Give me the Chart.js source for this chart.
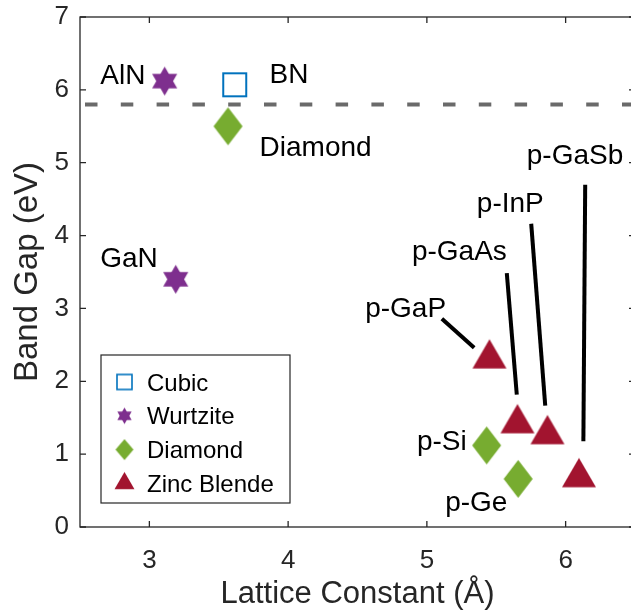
<!DOCTYPE html>
<html>
<head>
<meta charset="utf-8">
<title>Band Gap vs Lattice Constant</title>
<script src="https://cdn.jsdelivr.net/npm/chart.js@4.4.1/dist/chart.umd.min.js"></script>
<style>
  html, body { margin: 0; padding: 0; background: #fff; overflow: hidden; }
  #wrap { width: 650px; height: 615px; }
</style>
</head>
<body>
<div id="wrap"><canvas id="myChart" width="650" height="615"></canvas></div>
<script>
// lattice constant (Å) and band gap (eV), grouped by crystal structure
const cubicX = [3.615];
const cubicY = [6.07];
const wurtziteX = [3.11, 3.19];
const wurtziteY = [6.12, 3.40];
const diamondX = [3.567, 5.431, 5.658];
const diamondY = [5.50, 1.12, 0.66];
const zincX = [5.451, 5.653, 5.869, 6.096];
const zincY = [2.31, 1.42, 1.27, 0.68];

const seriesNames = ['Cubic', 'Wurtzite', 'Diamond', 'Zinc Blende'];

// dashed reference level
const refGap = 5.8;

// axis ranges and ticks
const xRange = [2.5, 6.5];
const yRange = [0, 7];
const xTicks = [3, 4, 5, 6];
const yTicks = [0, 1, 2, 3, 4, 5, 6, 7];

// material names and where their text starts (data units)
const labelText = ['AlN', 'BN', 'Diamond', 'GaN', 'p-GaSb', 'p-InP', 'p-GaAs', 'p-GaP', 'p-Si', 'p-Ge'];
const labelX = [2.646, 3.866, 3.794, 2.646, 5.720, 5.360, 4.892, 4.555, 4.928, 5.132];
const labelY = [6.085, 6.093, 5.087, 3.566, 4.986, 4.321, 3.658, 2.879, 1.058, 0.224];

// leader lines from a label down to its marker: x0, y0, x1, y1
const leaderGaP = [5.108, 2.857, 5.341, 2.459];
const leaderGaAs = [5.576, 3.484, 5.648, 1.817];
const leaderInP = [5.752, 4.162, 5.853, 1.666];
const leaderGaSb = [6.141, 4.698, 6.128, 1.176];

const colors = ['#0072BD', '#7E2F8E', '#77AC30', '#A2142F'];
const FONT = "'Liberation Sans', Arial, Helvetica, sans-serif";

// marker sprites, drawn once and handed to Chart.js as pointStyle
function sprite(w, h, paint) {
    const c = document.createElement('canvas');
    c.width = w;
    c.height = h;
    const g = c.getContext('2d');
    paint(g, w / 2, h / 2);
    return c;
}

function squareMarker(side, lw, color) {
    const n = Math.ceil(side + lw + 2);
    return sprite(n, n, (g, cx, cy) => {
        g.strokeStyle = color;
        g.lineWidth = lw;
        g.strokeRect(cx - side / 2, cy - side / 2, side, side);
    });
}

function hexagramMarker(R, color) {
    const n = Math.ceil(2 * R + 2);
    return sprite(n, n, (g, cx, cy) => {
        g.fillStyle = color;
        [-90, 90].forEach(start => {
            g.beginPath();
            for (let k = 0; k < 3; k++) {
                const a = (start + k * 120) * Math.PI / 180;
                g.lineTo(cx + R * Math.cos(a), cy + R * Math.sin(a));
            }
            g.closePath();
            g.fill();
        });
    });
}

function diamondMarker(hw, hh, color) {
    return sprite(Math.ceil(2 * hw + 2), Math.ceil(2 * hh + 2), (g, cx, cy) => {
        g.fillStyle = color;
        g.beginPath();
        g.moveTo(cx, cy - hh);
        g.lineTo(cx + hw, cy);
        g.lineTo(cx, cy + hh);
        g.lineTo(cx - hw, cy);
        g.closePath();
        g.fill();
    });
}

function triangleMarker(r, color) {
    const n = Math.ceil(2 * r + 2);
    return sprite(n, n, (g, cx, cy) => {
        const s = r * Math.sin(2 * Math.PI / 3);
        g.fillStyle = color;
        g.beginPath();
        g.moveTo(cx, cy - r);
        g.lineTo(cx + s, cy + r / 2);
        g.lineTo(cx - s, cy + r / 2);
        g.closePath();
        g.fill();
    });
}

const markers = [
    squareMarker(23, 2, colors[0]),
    hexagramMarker(14.5, colors[1]),
    diamondMarker(14.5, 19, colors[2]),
    triangleMarker(19.6, colors[3])
];
const legendMarkers = [
    squareMarker(15, 1.6, colors[0]),
    hexagramMarker(8.3, colors[1]),
    diamondMarker(9, 10.5, colors[2]),
    triangleMarker(11.5, colors[3])
];

const pts = (xs, ys) => xs.map((x, i) => ({ x: x, y: ys[i] }));
const seg = s => [{ x: s[0], y: s[1] }, { x: s[2], y: s[3] }];

function markerSet(i, xs, ys) {
    return {
        label: seriesNames[i],
        data: pts(xs, ys),
        pointStyle: markers[i],
        pointRadius: 10,
        pointHoverRadius: 10,
        showLine: false
    };
}

function lineSet(data, extra) {
    return Object.assign({
        data: data,
        showLine: true,
        pointRadius: 0,
        pointHoverRadius: 0,
        borderColor: '#000',
        borderWidth: 4,
        borderCapStyle: 'butt'
    }, extra || {});
}

// box with inward ticks on all four sides
const frame = {
    id: 'frame',
    afterDatasetsDraw(chart) {
        const { ctx, chartArea: a, scales: { x, y } } = chart;
        ctx.save();
        ctx.strokeStyle = '#262626';
        ctx.lineWidth = 1.3;
        ctx.strokeRect(a.left, a.top, a.right - a.left, a.bottom - a.top);
        ctx.beginPath();
        xTicks.forEach(v => {
            const px = x.getPixelForValue(v);
            ctx.moveTo(px, a.bottom); ctx.lineTo(px, a.bottom - 6);
            ctx.moveTo(px, a.top); ctx.lineTo(px, a.top + 6);
        });
        yTicks.forEach(v => {
            const py = y.getPixelForValue(v);
            ctx.moveTo(a.left, py); ctx.lineTo(a.left + 6, py);
            ctx.moveTo(a.right, py); ctx.lineTo(a.right - 6, py);
        });
        ctx.stroke();
        ctx.restore();
    }
};

// material names next to the markers
const names = {
    id: 'names',
    afterDatasetsDraw(chart) {
        const { ctx, scales: { x, y } } = chart;
        ctx.save();
        ctx.font = '28px ' + FONT;
        ctx.fillStyle = '#000';
        ctx.textAlign = 'left';
        ctx.textBaseline = 'alphabetic';
        labelText.forEach((t, i) => {
            ctx.fillText(t, x.getPixelForValue(labelX[i]), y.getPixelForValue(labelY[i]));
        });
        ctx.restore();
    }
};

// boxed legend in the lower left of the plot
const boxLegend = {
    id: 'boxLegend',
    afterDraw(chart) {
        const { ctx, chartArea: a } = chart;
        const left = a.left + 21, right = a.left + 210;
        const top = a.bottom - 172, bottom = a.bottom - 24;
        ctx.save();
        ctx.fillStyle = '#fff';
        ctx.fillRect(left, top, right - left, bottom - top);
        ctx.strokeStyle = '#262626';
        ctx.lineWidth = 1.2;
        ctx.strokeRect(left, top, right - left, bottom - top);
        ctx.font = '24px ' + FONT;
        ctx.fillStyle = '#000';
        ctx.textBaseline = 'alphabetic';
        seriesNames.forEach((name, i) => {
            const cy = top + 27 + i * 33.8;
            const m = legendMarkers[i];
            ctx.drawImage(m, left + 23.5 - m.width / 2, cy - m.height / 2);
            ctx.fillText(name, left + 46, cy + 8.5);
        });
        ctx.restore();
    }
};

Chart.defaults.font.family = FONT;
Chart.defaults.color = '#262626';

new Chart(document.getElementById('myChart'), {
    type: 'scatter',
    data: {
        datasets: [
            markerSet(0, cubicX, cubicY),
            markerSet(1, wurtziteX, wurtziteY),
            markerSet(2, diamondX, diamondY),
            markerSet(3, zincX, zincY),
            lineSet(seg(leaderGaP)),
            lineSet(seg(leaderGaAs)),
            lineSet(seg(leaderInP)),
            lineSet(seg(leaderGaSb)),
            lineSet([{ x: xRange[0], y: refGap }, { x: xRange[1], y: refGap }], {
                borderColor: '#6a6a6a',
                borderDash: [12.5, 23.3],
                borderDashOffset: 30.8
            })
        ]
    },
    options: {
        responsive: false,
        maintainAspectRatio: false,
        animation: false,
        layout: { padding: { top: 17, right: 15, left: 0, bottom: 0 } },
        plugins: {
            legend: { display: false },
            tooltip: { enabled: false }
        },
        scales: {
            x: {
                type: 'linear',
                min: xRange[0],
                max: xRange[1],
                afterBuildTicks: s => { s.ticks = xTicks.map(v => ({ value: v })); },
                afterFit: s => { s.height = 88; s.paddingLeft = 0; s.paddingRight = 0; },
                grid: { display: false, drawTicks: false },
                border: { display: false },
                ticks: { font: { size: 26 }, padding: 18, color: '#262626' },
                title: {
                    display: true,
                    text: 'Lattice Constant (Å)',
                    font: { size: 31 },
                    color: '#262626',
                    padding: { top: 2, bottom: 2 }
                }
            },
            y: {
                type: 'linear',
                min: yRange[0],
                max: yRange[1],
                afterBuildTicks: s => { s.ticks = yTicks.map(v => ({ value: v })); },
                afterFit: s => { s.width = 80; s.paddingTop = 0; s.paddingBottom = 0; },
                grid: { display: false, drawTicks: false },
                border: { display: false },
                ticks: { font: { size: 26 }, padding: 11, color: '#262626' },
                title: {
                    display: true,
                    text: 'Band Gap (eV)',
                    font: { size: 33 },
                    color: '#262626',
                    padding: { top: 8, bottom: 8 }
                }
            }
        }
    },
    plugins: [frame, names, boxLegend]
});
</script>
</body>
</html>
